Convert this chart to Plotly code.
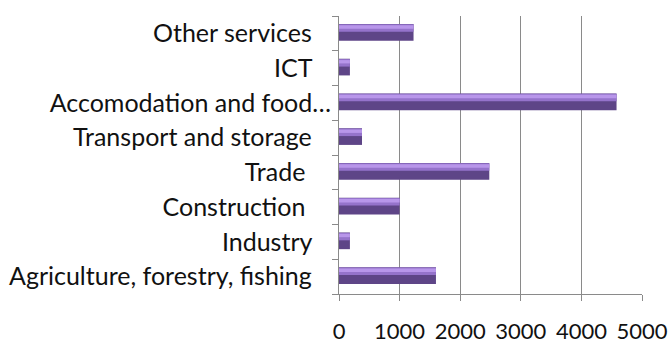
import plotly.graph_objects as go

categories = ["Agriculture, forestry, fishing", "Industry", "Construction", "Trade",
              "Transport and storage", "Accomodation and food…", "ICT", "Other services"]
values = [1600, 180, 1000, 2480, 380, 4580, 180, 1230]
label_pad = [3, 3, 4, 4, 3, 0, 3, 3]
x_ticks = [0, 1000, 2000, 3000, 4000, 5000]

ticktext = [c + "\u00a0" * p for c, p in zip(categories, label_pad)]

W = 0.48
fig = go.Figure()
# dark base
fig.add_trace(go.Bar(y=categories, x=values, orientation="h", width=W, offset=-W / 2 + 0.03,
                     marker=dict(color="#5e4587", line=dict(width=0))))
# upper lighter half
fig.add_trace(go.Bar(y=categories, x=values, orientation="h", width=W * 0.45, offset=0.03 + W * 0.03,
                     marker=dict(color="#9573cb", line=dict(width=0))))
# highlight band
fig.add_trace(go.Bar(y=categories, x=values, orientation="h", width=W * 0.2, offset=0.03 + W * 0.22,
                     marker=dict(color="#b896ea", line=dict(width=0))))

fig.update_layout(
    barmode="overlay",
    width=670, height=347,
    margin=dict(l=339, r=28, t=16, b=53),
    paper_bgcolor="white", plot_bgcolor="white",
    showlegend=False,
    font=dict(family="Lato", size=22, color="#111"),
    xaxis=dict(range=[0, 5000], tickvals=x_ticks, showgrid=True, gridcolor="#8a8a8a", gridwidth=1,
               showline=True, linecolor="#8a8a8a", linewidth=1, ticks="outside", ticklen=6,
               tickcolor="#8a8a8a", ticklabelstandoff=12, zeroline=False, automargin=False,
               tickfont=dict(size=22)),
    yaxis=dict(categoryorder="array", categoryarray=categories, tickvals=categories, ticktext=ticktext,
               showline=True, linecolor="#8a8a8a", linewidth=1, ticks="outside", ticklen=6,
               tickcolor="#8a8a8a", tickson="boundaries", showgrid=False, ticklabelstandoff=2,
               range=[-0.5, 7.5], automargin=False, tickfont=dict(size=25)),
)
fig.write_html("out.html")
